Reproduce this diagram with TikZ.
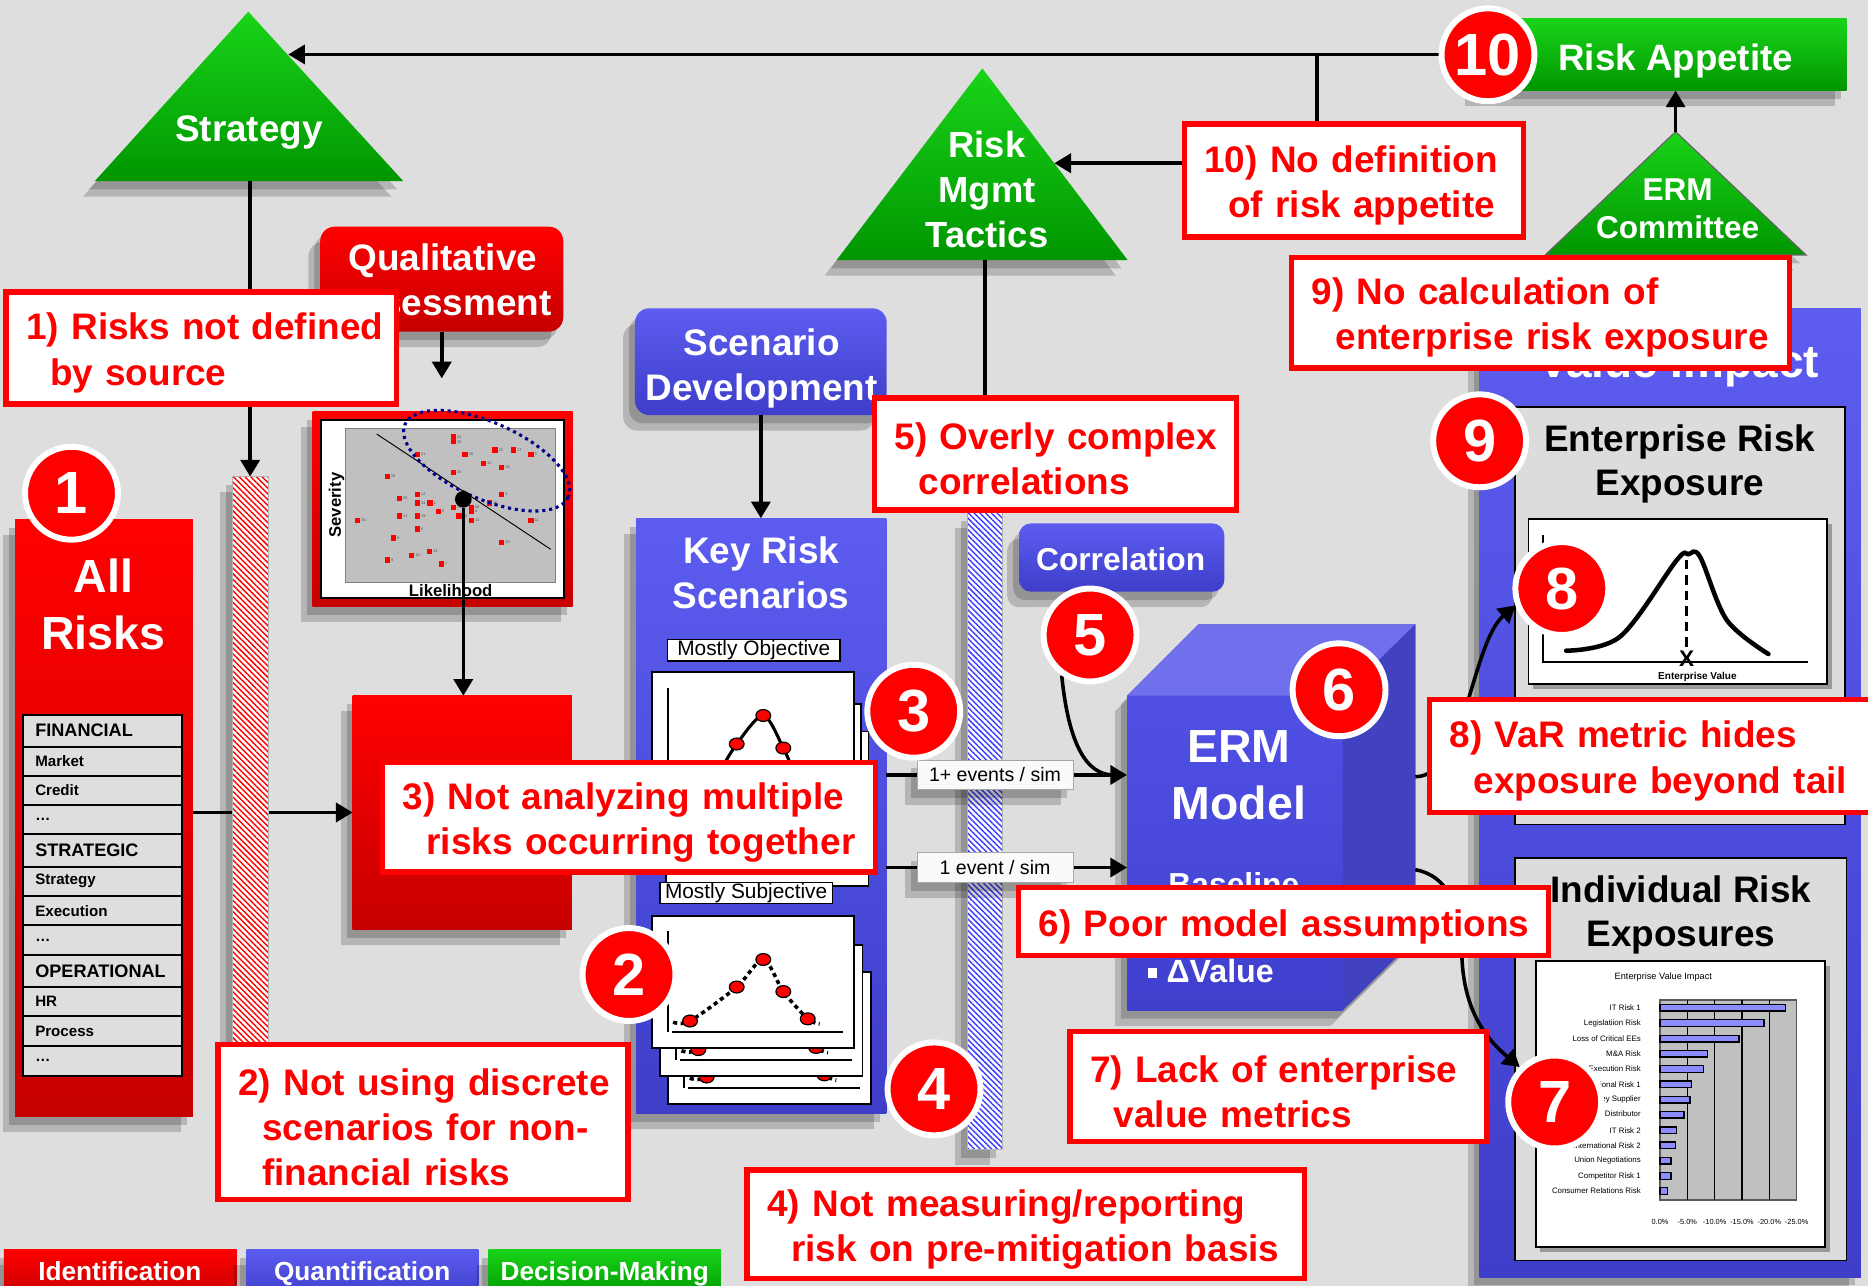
\documentclass[tikz,border=0pt]{standalone}
\usepackage{fontspec}
\setmainfont{Liberation Sans}
\usetikzlibrary{arrows.meta,shadows,patterns.meta,calc}
\pgfdeclarelayer{back}
\pgfdeclarelayer{front}
\pgfsetlayers{back,main,front}
\newcommand\setfs[2]{\fontsize{#1}{#2}\selectfont}
% tall invisible strut that lowers the first line of a callout a little
\newcommand\topgap{\rule{0pt}{31pt}}

\definecolor{bgc}{RGB}{222,222,222}
\definecolor{rd}{RGB}{255,0,0}
\definecolor{rdtop}{RGB}{255,0,0}
\definecolor{rdbot}{RGB}{198,0,0}
\definecolor{bltop}{RGB}{92,92,240}
\definecolor{blbot}{RGB}{62,62,202}
\definecolor{blfrtop}{RGB}{80,80,230}
\definecolor{blfrbot}{RGB}{64,64,205}
\definecolor{cubetop}{RGB}{112,112,236}
\definecolor{cubeside}{RGB}{66,66,192}
\definecolor{grtop}{RGB}{25,212,25}
\definecolor{grbot}{RGB}{0,150,0}
\definecolor{cellg}{RGB}{222,222,222}
\definecolor{panelg}{RGB}{220,220,220}
\definecolor{plotg}{RGB}{192,192,192}
\definecolor{barc}{RGB}{140,140,255}
\definecolor{navyd}{RGB}{0,0,140}
\definecolor{hatchb}{RGB}{60,60,255}

\begin{document}
\begin{tikzpicture}[x=1pt,y=-1pt,
  ln/.style={line width=3pt},
  arr/.style={line width=3pt,-{Triangle[width=16pt,length=14pt]}},
  shd/.style={drop shadow={shadow xshift=-5pt,shadow yshift=-7pt,opacity=0.18,fill=black},
              drop shadow={shadow xshift=-10pt,shadow yshift=-13pt,opacity=0.18,fill=black}},
  sshd/.style={drop shadow={shadow xshift=4pt,shadow yshift=-4pt,opacity=0.3,fill=black}},
  redfill/.style={top color=rdtop,bottom color=rdbot},
  bluefill/.style={top color=bltop,bottom color=blbot},
  greenfill/.style={top color=grtop,bottom color=grbot},
  nbox/.style={anchor=north west,inner sep=0pt,outer sep=0pt},
  wtitle/.style={text=white,font=\bfseries\setfs{31}{38},align=center,inner sep=0pt},
  btitle/.style={text=black,font=\bfseries\setfs{31}{36.5},align=center,inner sep=0pt},
  callout/.style={draw=rd,line width=4.5pt,fill=white,text=rd,font=\bfseries\setfs{31}{38},align=left,inner sep=0pt},
  numc/.style={circle,fill=rd,draw=white,line width=5pt,minimum size=78pt,inner sep=0pt,text=white,font=\bfseries\setfs{50}{50}},
  lbl/.style={draw=gray!70,line width=0.8pt,fill=white!96!gray,font=\setfs{16.4}{18},inner sep=0pt,minimum width=131pt,minimum height=25pt},
  card/.style={draw=black,line width=1.6pt,fill=white},
  rdot/.style={fill=rd,draw=black,line width=1pt},
]
\useasboundingbox (0,0) rectangle (1568,1079.4);

% ---------------- shapes ----------------
\begin{pgfonlayer}{back}
\fill[bgc] (0,0) rectangle (1568,1079.4);

% Strategy
\path[shd,greenfill] (208.4,9.8) -- (338.5,152) -- (79.6,152) -- cycle;
\coordinate (st-base) at (210,152);
\coordinate (st-r) at (242,45.7);
\node[wtitle,anchor=base] (st-t) at (209,119) {Strategy};

% Risk Mgmt Tactics
\path[shd,greenfill] (824.6,57.4) -- (946.5,218.3) -- (702.3,218.3) -- cycle;
\coordinate (rmt-base) at (826.6,218.3);
\coordinate (rmt-r) at (885,137);
\node[wtitle,font=\bfseries\setfs{30.5}{37.8}] (rmt-t) at (828.5,158.8) {Risk\\Mgmt\\Tactics};

% ERM Committee
\path[shd,greenfill,draw=black!60,line width=1pt] (1406.5,110.5) -- (1516,214) -- (1297,214) -- cycle;
\coordinate (ec-apex) at (1406.5,110.5);
\coordinate (ec-base) at (1406.5,214);
\node[wtitle,font=\bfseries\setfs{26.5}{32}] (ec-t) at (1408.2,175.5) {ERM\\Committee};

% Risk Appetite
\node[nbox,shd,greenfill,minimum width=310pt,minimum height=60.6pt] (ra) at (1240,15.4) {};
\node[wtitle,font=\bfseries\setfs{30.8}{36},anchor=base] (ra-t) at (1406.6,58.8) {Risk Appetite};
\coordinate (jn) at (1105.3,45.7);

% All Risks with category table
\node[nbox,shd,redfill,minimum width=149.4pt,minimum height=501pt] (allrisks) at (12.6,436) {};
\node[wtitle,font=\bfseries\setfs{39}{48}] (allrisks-t) at (86.7,507.3) {All\\Risks};
\foreach \rt/\rb/\rl/\rs [count=\i] in {
  599.8/626.8/FINANCIAL/15.2, 626.8/651.1/Market/12.7, 651.1/675.7/Credit/12.7, 675.7/700.4/\ldots/12.7,
  700.4/727.4/STRATEGIC/15.2, 727.4/752.1/Strategy/12.7, 752.1/776.7/Execution/12.7, 776.7/801.4/\ldots/12.7,
  801.4/828.3/OPERATIONAL/15.2, 828.3/853/HR/12.7, 853/877.7/Process/12.7, 877.7/903.1/\ldots/12.7} {
  \draw[fill=cellg,line width=1.6pt] (19.6,\rt) rectangle (152.5,\rb);
  \node[anchor=west,inner sep=0pt,font=\bfseries\setfs{\rs}{\rs}] (row\i) at (29.4,{(\rt+\rb)/2}) {\rl};
}

% Qualitative assessment
\node[nbox,shd,redfill,rounded corners=12pt,minimum width=204pt,minimum height=88pt] (qa) at (268.8,190.3) {};
\node[wtitle] (qa-t) at (371.6,235) {Qualitative\\Assessment};

% Severity / likelihood map
\node[nbox,shd,redfill,minimum width=218.2pt,minimum height=163.7pt] (chart) at (262.5,345.6) {};
\node[nbox,fill=white,draw=black,line width=1.8pt,minimum width=204.3pt,minimum height=149.7pt] (chart-in) at (269.2,352.6) {};
\node[nbox,fill=plotg,draw=gray,line width=0.8pt,minimum width=176.3pt,minimum height=129.5pt] (plot) at (290.2,359.6) {};
\node[rotate=90,inner sep=0pt,font=\bfseries\setfs{14}{14}] (sev) at (282.6,424) {Severity};
\node[anchor=base,inner sep=0pt,font=\bfseries\setfs{14}{14}] (lik) at (378.3,500.3) {Likelihood};
\draw[line width=0.8pt] (316.2,364.3) -- (462.3,461.1);
\foreach \px/\py/\pn [count=\i] in {380.5/366.6/24, 380.5/370.8/32, 350.3/381.4/21, 390.3/381.4/18, 415.5/377.8/22,
  430.9/377.8/17, 445.7/381.4/5, 405.7/389/15, 421.1/392.3/26, 380.5/396.5/33, 325.1/399.9/29, 350.3/415/12,
  335.2/418.3/25, 350.3/422.3/34, 360.9/422.3/1, 421.1/415/3, 410.7/422.3/16, 367.9/429.2/2, 380.5/425.9/27,
  395.6/425.9/28, 395.6/429.5/4, 385.3/433.2/23, 350.3/433.2/19, 335.2/433.2/31, 300.2/436.8/30, 395.6/436.8/13,
  445.7/436.8/11, 350.3/444.1/6, 330.4/451.6/8, 421.1/455.3/20, 360.4/462.8/14, 345.5/466.2/10, 325.1/470.1/9,
  370.4/473.4/7} {
  \fill[rd] (\px-2.3,\py-2.3) rectangle (\px+2.3,\py+2.3);
  \node[anchor=west,inner sep=0.4pt,font=\setfs{3.2}{3.5},text=black!70] (pt\i) at (\px+2.6,\py) {\pn};
}
\draw[navyd,line width=2.6pt,dash pattern=on 2.6pt off 3.2pt,rotate around={-24:(408.5,386.7)}]
  (408.5,386.7) ellipse [x radius=75, y radius=32];
\node[circle,fill=black,minimum size=14pt,inner sep=0pt] (sdot) at (388.9,419.1) {};

% Central risk box
\node[nbox,shd,redfill,minimum width=184pt,minimum height=196pt] (rbox) at (296,584) {};

% Scenario development
\node[nbox,shd,bluefill,rounded corners=12pt,minimum width=211.3pt,minimum height=89.6pt] (sd) at (533,258.8) {};
\node[wtitle] (sd-t) at (639.4,309.2) {Scenario\\Development};

% Key risk scenarios
\node[nbox,shd,bluefill,minimum width=210pt,minimum height=500pt] (krs) at (534,435) {};
\node[wtitle] (krs-t) at (639,481) {Key Risk\\Scenarios};
\node[draw=black,line width=1.2pt,fill=white,inner sep=0pt,minimum width=144.5pt,minimum height=18pt,font=\setfs{17.5}{18}] (mobj) at (632.7,546) {Mostly Objective};
\foreach \dx/\dy [count=\k] in {12/50,6/27,0/0}
  \node[nbox,card,minimum width=170pt,minimum height=130pt] (ocard\k) at (547+\dx,564+\dy) {};
\draw[line width=1.6pt] (560.5,577.4) -- (560.5,690);
\draw[line width=2.6pt] plot[smooth] coordinates {(592,672) (603,650) (618.4,624.5) (640.7,600.6) (657.5,627.9) (667,650) (676,672)};
\foreach \qx/\qy in {618.4/624.5, 640.7/600.6, 657.5/627.9}
  \draw[rdot] (\qx,\qy) ellipse [x radius=6.2, y radius=5];
\node[draw=black,line width=1.2pt,fill=white,inner sep=0pt,minimum width=144.7pt,minimum height=17.6pt,font=\setfs{17.5}{18}] (msub) at (626.3,749.5) {Mostly Subjective};
\foreach \dx/\dy [count=\k] in {14/47,7/24,0/0} {
  \begin{scope}[shift={(\dx,\dy)}]
    \node[nbox,card,minimum width=170pt,minimum height=110.4pt] (scard\k) at (547,769) {};
    \draw[line width=1.6pt] (560.5,781.5) -- (560.5,866);
    \draw[line width=1.6pt] (563.8,866) -- (708,866);
    \draw[line width=3pt,dash pattern=on 3.5pt off 3pt] plot[smooth] coordinates
      {(565,858) (579.2,857) (618.4,828.5) (640.7,805.4) (657.5,832.3) (678,855.2) (688,859.6)};
    \foreach \qx/\qy in {579.2/857, 618.4/828.5, 640.7/805.4, 657.5/832.3, 678/855.2}
      \draw[rdot] (\qx,\qy) ellipse [x radius=6.2, y radius=5];
  \end{scope}
}

% Correlation
\node[nbox,shd,bluefill,rounded corners=10pt,minimum width=172.3pt,minimum height=57.4pt] (corr) at (855.4,439.3) {};
\node[wtitle,font=\bfseries\setfs{26.6}{30},anchor=base] (corr-t) at (940.7,478.5) {Correlation};

% ERM model cube
\path[shd,fill=cubeside] (946,584) -- (1006,524) -- (1188,524) -- (1188,788) -- (1127,848) -- (946,848) -- cycle;
\node[nbox,top color=blfrtop,bottom color=blfrbot,minimum width=181pt,minimum height=264pt] (erm) at (946,584) {};
\fill[cubetop] (946,584) -- (1006,524) -- (1188,524) -- (1127,584) -- cycle;
\fill[cubeside] (1127,584) -- (1188,524) -- (1188,788) -- (1127,848) -- cycle;
\coordinate (erm-r1) at (1188,652);
\coordinate (erm-r2) at (1188,730);
\node[wtitle,font=\bfseries\setfs{39}{48}] (erm-t) at (1040,650.4) {ERM\\Model};
\node[anchor=base west,inner sep=0pt,text=white,font=\bfseries\setfs{26.7}{30}] (erm-b) at (980.6,752) {Baseline};
\fill[white] (963.8,812.6) rectangle (971,820.5);
\node[anchor=base west,inner sep=0pt,text=white,font=\bfseries\setfs{27}{30}] (erm-v) at (979,825) {ΔValue};

% Value impact panel
\node[nbox,shd,bluefill,minimum width=320pt,minimum height=813pt] (vi) at (1242,259) {};
\node[wtitle,font=\bfseries\setfs{38.6}{44},anchor=base] (vi-t) at (1409,317) {Value Impact};
\node[nbox,fill=panelg,draw=black,line width=1.5pt,minimum width=277pt,minimum height=350.5pt] (p1) at (1272,341.5) {};
\node[btitle] (p1-t) at (1410,389.6) {Enterprise Risk\\Exposure};
\node[nbox,sshd,card,minimum width=250.5pt,minimum height=138.3pt] (bell) at (1283,435.7) {};
\draw[line width=1.5pt] (1295.5,449) -- (1295.5,555.8) -- (1517.7,555.8);
\draw[line width=3.8pt,line join=round,line cap=round] plot[smooth,tension=0.55] coordinates
  {(1314.6,546.2) (1359.9,534.4) (1407.5,470.1) (1417.2,465.3) (1427,467.3) (1449.4,520.4) (1484.4,549)};
\draw[line width=2.4pt,dash pattern=on 8pt off 5pt] (1415.8,470) -- (1415.8,547);
\node[inner sep=0pt,font=\bfseries\setfs{19}{19}] (bell-x) at (1415.8,552.6) {X};
\node[inner sep=0pt,font=\bfseries\setfs{8.4}{9}] (bell-lab) at (1424.8,568) {Enterprise Value};

\node[nbox,fill=panelg,draw=black,line width=1.5pt,minimum width=278pt,minimum height=338pt] (p2) at (1272,720) {};
\node[btitle] (p2-t) at (1411,768) {Individual Risk\\Exposures};
\node[nbox,sshd,card,minimum width=243pt,minimum height=240pt] (barcard) at (1289,807) {};
\node[inner sep=0pt,font=\setfs{7.7}{8}] (bar-title) at (1396.2,820.4) {Enterprise Value Impact};
\node[nbox,fill=plotg,draw=gray!70!black,line width=1.2pt,minimum width=114.7pt,minimum height=167.9pt] (barplot) at (1393.4,839.4) {};
\foreach \gx in {1416.3,1439.3,1462.2,1485.2}
  \draw[line width=0.9pt] (\gx,839.4) -- (\gx,1007.3);
\foreach \by/\bx/\bl [count=\i] in {845.8/1498.9/IT Risk 1, 858.7/1480.7/Legislatiion Risk,
  871.9/1459.7/Loss of Critical EEs, 884.4/1433.4/M\&A Risk, 897.3/1429.8/Execution Risk,
  910.2/1420/International Risk 1, 923.1/1418.6/Key Supplier, 935.7/1413.5/Key Distributor,
  948.8/1407.4/IT Risk 2, 961.4/1406.5/International Risk 2, 974.3/1402.6/Union Negotiations,
  987.1/1402.6/Competitor Risk 1, 999.7/1399.8/Consumer Relations Risk} {
  \draw[fill=barc,line width=1.1pt] (1393.4,\by-2.8) rectangle (\bx,\by+2.8);
  \node[anchor=east,inner sep=0pt,font=\setfs{6.6}{7}] (barlab\i) at (1377.4,\by) {\bl};
}
\foreach \ax/\at [count=\i] in {1393.4/0.0\%, 1416.3/-5.0\%, 1439.3/-10.0\%, 1462.2/-15.0\%, 1485.2/-20.0\%, 1508.1/-25.0\%}
  \node[inner sep=0pt,font=\setfs{6.2}{7}] (axlab\i) at (\ax,1025.5) {\at};

% Legend
\node[nbox,shd,redfill,minimum width=195.3pt,minimum height=42pt] (leg-id) at (3.3,1048.6) {};
\node[wtitle,font=\bfseries\setfs{22}{24},anchor=base] (leg-id-t) at (100.6,1074.5) {Identification};
\node[nbox,shd,bluefill,minimum width=194.8pt,minimum height=42pt] (leg-q) at (206.7,1048.6) {};
\node[wtitle,font=\bfseries\setfs{22}{24},anchor=base] (leg-q-t) at (304,1074.5) {Quantification};
\node[nbox,shd,greenfill,minimum width=195pt,minimum height=42pt] (leg-d) at (410,1048.6) {};
\node[wtitle,font=\bfseries\setfs{22}{24},anchor=base] (leg-d-t) at (507.6,1074.5) {Decision-Making};
\end{pgfonlayer}

% ---------------- overlays: bars, labels, callouts, markers ----------------
\begin{pgfonlayer}{front}
\node[nbox,shd,preaction={fill=white},pattern={Lines[angle=-45,distance=3.4pt,line width=1.2pt]},pattern color=rd,
  draw=gray!60,line width=0.6pt,minimum width=30pt,minimum height=475pt] (hbar) at (195,400) {};
\node[nbox,shd,preaction={fill=white},pattern={Lines[angle=-45,distance=3.4pt,line width=1.2pt]},pattern color=hatchb,
  draw=gray!60,line width=0.6pt,minimum width=29.4pt,minimum height=535pt] (bbar) at (811.9,430) {};

\node[lbl,shd] (lbl1) at (835.2,650.5) {1+ events / sim};
\node[lbl,shd] (lbl2) at (835.2,728.2) {1 event / sim};

\node[callout,minimum width=328pt,minimum height=94pt,text width=294pt] (c1) at (169,292)
  {\mbox{\topgap 1) Risks not defined}\\\mbox{\hspace*{20pt}by source}};
\node[callout,minimum width=344pt,minimum height=130pt,text width=310pt] (c2) at (355,942)
  {\mbox{\topgap 2) Not using discrete}\\\mbox{\hspace*{20pt}scenarios for non-}\\\mbox{\hspace*{20pt}financial risks}};
\node[callout,minimum width=414pt,minimum height=92pt,text width=380pt] (c3) at (528,686)
  {\mbox{\topgap 3) Not analyzing multiple}\\\mbox{\hspace*{20pt}risks occurring together}};
\node[callout,minimum width=468pt,minimum height=91pt,text width=434pt] (c4) at (861,1027.5)
  {\mbox{\topgap 4) Not measuring/reporting}\\\mbox{\hspace*{20pt}risk on pre-mitigation basis}};
\node[callout,minimum width=304pt,minimum height=94pt,text width=270pt] (c5) at (886,381)
  {\mbox{\topgap 5) Overly complex}\\\mbox{\hspace*{20pt}correlations}};
\node[callout,minimum width=445pt,minimum height=57pt,text width=411pt] (c6) at (1077.5,773.5)
  {\mbox{\topgap 6) Poor model assumptions}};
\node[callout,minimum width=350pt,minimum height=92pt,text width=316pt] (c7) at (1073,912)
  {\mbox{\topgap 7) Lack of enterprise}\\\mbox{\hspace*{20pt}value metrics}};
\node[callout,minimum width=372pt,minimum height=95pt,text width=338pt] (c8) at (1386,634.5)
  {\mbox{\topgap 8) VaR metric hides}\\\mbox{\hspace*{20pt}exposure beyond tail}};
\node[callout,minimum width=418pt,minimum height=93pt,text width=384pt] (c9) at (1293,262.5)
  {\mbox{\topgap 9) No calculation of}\\\mbox{\hspace*{20pt}enterprise risk exposure}};
\node[callout,minimum width=285pt,minimum height=95pt,text width=251pt] (c10) at (1136.5,151.5)
  {\mbox{\topgap 10) No definition}\\\mbox{\hspace*{20pt}of risk appetite}};

\node[numc] (n1) at (60,414) {1};
\node[numc] (n2) at (528,818) {2};
\node[numc] (n3) at (767,597) {3};
\node[numc] (n4) at (784,914) {4};
\node[numc] (n5) at (915,533) {5};
\node[numc] (n6) at (1124,579) {6};
\node[numc] (n7) at (1305,925) {7};
\node[numc] (n8) at (1311,494) {8};
\node[numc] (n9) at (1242,370) {9};
\node[numc] (n10) at (1249,46) {10};
\end{pgfonlayer}

% ---------------- connectors ----------------
\draw[arr] (ra.west) -- (ra.west -| st-r);
\draw[ln] (jn) -- (jn |- c10.north);
\draw[arr] (c10.west |- rmt-r) -- (rmt-r);
\draw[arr] (ec-apex) -- (ec-apex |- ra.south);
\draw[ln] (ec-base) -- (ec-base |- vi.north);
\draw[arr] (st-base) -- (st-base |- hbar.north);
\draw[arr,shorten >=28pt] (qa.south) -- (qa.south |- chart.north);
\draw[arr] (sdot) -- (sdot |- rbox.north);
\draw[arr] (allrisks.east |- rbox.west) -- (rbox.west);
\draw[arr] (sd.south) -- (sd.south |- krs.north);
\draw[ln] (rmt-base) -- (rmt-base |- bbar.north);
\draw[arr] (krs.east |- lbl1) -- (erm.west |- lbl1);
\draw[arr] (krs.east |- lbl2) -- (erm.west |- lbl2);
\draw[ln] (n5.235) .. controls (897,625) and (912,650) .. ($(erm.west |- lbl1)+(-12,0)$);
\draw[arr] (erm-r1) .. controls (1230,652) and (1235,540) .. (n8.200);
\draw[arr] (erm-r2) .. controls (1215,735) and (1226,760) .. (1227,800) .. controls (1228,845) and (1245,870) .. (n7.135);
\end{tikzpicture}
\end{document}
